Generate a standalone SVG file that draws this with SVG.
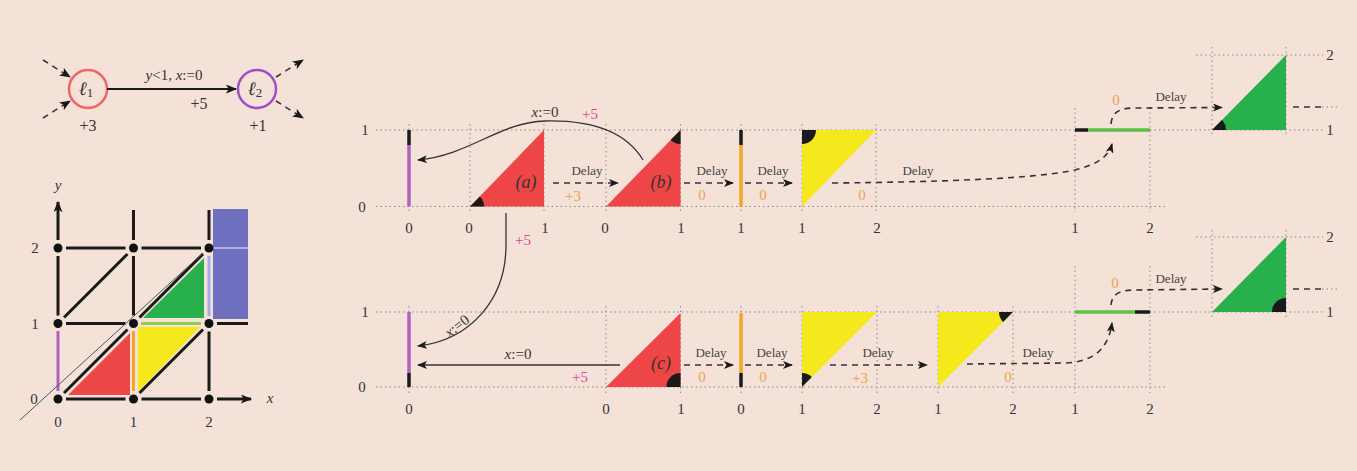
<svg xmlns="http://www.w3.org/2000/svg" width="1357" height="471" viewBox="0 0 1357 471">
<defs>
<marker id="ah" viewBox="0 0 10 8" refX="9" refY="4" markerWidth="10" markerHeight="8" markerUnits="userSpaceOnUse" orient="auto"><path d="M0,0 L10,4 L0,8 L2.5,4 Z" fill="#1a1a1a"/></marker>
<marker id="ahb" viewBox="0 0 10 8" refX="9" refY="4" markerWidth="12" markerHeight="9" markerUnits="userSpaceOnUse" orient="auto"><path d="M0,0 L10,4 L0,8 L2.5,4 Z" fill="#1a1a1a"/></marker>
<style>
.t{font-family:"Liberation Serif","DejaVu Serif",serif;fill:#333;text-anchor:middle;dominant-baseline:central}
.n{font-size:15px}
.d{font-size:13px;fill:#444}
.o{fill:#f0a04a;font-size:15px}
.m{fill:#e0459a;font-size:15px}
.it{font-style:italic}
.dot{stroke:#8a8a8a;stroke-width:1;stroke-dasharray:1.5 3;fill:none}
.dash{stroke:#333;stroke-width:1.6;stroke-dasharray:6 5;fill:none;marker-end:url(#ah)}
.dsh{stroke:#333;stroke-width:1.6;stroke-dasharray:6 5;fill:none}
.arr{stroke:#333;stroke-width:1.3;fill:none;marker-end:url(#ah)}
.g{stroke:#1a1a1a;stroke-width:3;fill:none}
.w{fill:#1a1a1a}
.red{fill:#ee4646}
.yel{fill:#f5e81c}
.grn{fill:#27b04b}
</style>
</defs>
<rect width="1357" height="471" fill="#f4e2d9"/>

<!-- automaton -->
<g id="automaton">
  <g id="l1">
    <circle cx="88" cy="89" r="19" fill="none" stroke="#f06464" stroke-width="2.5"/>
    <text class="t it" x="86" y="88" font-size="19" fill="#f08080">ℓ<tspan font-size="13" dy="4" font-style="normal">1</tspan></text>
    <text class="t" x="88" y="125" font-size="16" fill="#f06464">+3</text>
  </g>
  <g id="l2">
    <circle cx="257" cy="89" r="19" fill="none" stroke="#a24ec0" stroke-width="2.5"/>
    <text class="t it" x="255" y="88" font-size="19" fill="#b070c8">ℓ<tspan font-size="13" dy="4" font-style="normal">2</tspan></text>
    <text class="t" x="258" y="125" font-size="16" fill="#a24ec0">+1</text>
  </g>
  <g id="automaton-edges">
    <line x1="107" y1="89" x2="236" y2="89" stroke="#1a1a1a" stroke-width="2" marker-end="url(#ahb)"/>
    <text class="t" x="174" y="75" font-size="15"><tspan class="it">y</tspan>&lt;1, <tspan class="it">x</tspan>:=0</text>
    <text class="t" x="199" y="103" font-size="16">+5</text>
    <line x1="43" y1="60" x2="70" y2="77" class="dsh" stroke-dasharray="5 4" marker-end="url(#ahb)"/>
    <line x1="43" y1="118" x2="70" y2="101" class="dsh" stroke-dasharray="5 4" marker-end="url(#ahb)"/>
    <line x1="276" y1="77" x2="303" y2="60" class="dsh" stroke-dasharray="5 4" marker-end="url(#ahb)"/>
    <line x1="276" y1="101" x2="303" y2="118" class="dsh" stroke-dasharray="5 4" marker-end="url(#ahb)"/>
  </g>
</g>

<!-- region graph -->
<g id="region-grid">
  <polygon class="red" points="68,395 130,395 130,333"/>
  <polygon class="yel" points="138,392 138,327 200,327"/>
  <polygon class="grn" points="143,318 204,318 204,258"/>
  <rect x="213" y="209" width="35" height="110" fill="#6f6fc0"/>
  <line x1="213" y1="248" x2="248" y2="248" stroke="#c4c4ee" stroke-width="1.5"/>
  <line x1="58" y1="391" x2="58" y2="331" stroke="#b060c0" stroke-width="3"/>
  <line x1="133.5" y1="391" x2="133.5" y2="331" stroke="#f5a623" stroke-width="3"/>
  <line x1="141" y1="323.5" x2="201" y2="323.5" stroke="#8fd048" stroke-width="3"/>
  <line x1="209" y1="316" x2="209" y2="256" stroke="#a8a8e8" stroke-width="3"/>
  <path class="g" d="M66,399 H125.5 M141.5,399 H201 M66,323.5 H125.5 M217,323.5 H248 M66,248 H125.5 M141.5,248 H201 M58,315.5 V256 M133.5,315.5 V256 M133.5,240 V210 M209,391 V331.5 M209,240 V210 M64,393 L127.5,329.5 M64,317.5 L127.5,254 M139.5,393 L203,329.5 M139.5,317.5 L203,254"/>
  <line x1="217" y1="399" x2="251" y2="399" class="g" marker-end="url(#ahb)"/>
  <line x1="58" y1="240" x2="58" y2="202" class="g" marker-end="url(#ahb)"/>
  <line x1="20" y1="420" x2="203" y2="253" stroke="#555" stroke-width="1"/>
  <g fill="#111">
    <circle cx="58" cy="399" r="4.5"/><circle cx="133.5" cy="399" r="4.5"/><circle cx="209" cy="399" r="4.5"/>
    <circle cx="58" cy="323.5" r="4.5"/><circle cx="133.5" cy="323.5" r="4.5"/><circle cx="209" cy="323.5" r="4.5"/>
    <circle cx="58" cy="248" r="4.5"/><circle cx="133.5" cy="248" r="4.5"/><circle cx="209" cy="248" r="4.5"/>
  </g>
  <text class="t n it" x="58" y="185">y</text>
  <text class="t n it" x="270" y="398">x</text>
  <text class="t n" x="58" y="422">0</text>
  <text class="t n" x="133.5" y="422">1</text>
  <text class="t n" x="209" y="422">2</text>
  <text class="t n" x="34" y="399">0</text>
  <text class="t n" x="35" y="323.5">1</text>
  <text class="t n" x="35" y="248">2</text>
</g>

<!-- guide lines -->
<g id="guides">
  <path class="dot" d="M376,130 H1323 M376,206.5 H1165 M1196,55 H1323 M376,312 H1323 M376,387 H1165 M1196,237 H1323"/>
  <path class="dot" d="M409,124 V212 M470,124 V212 M544,124 V212 M606,124 V212 M680.5,124 V212 M741,124 V212 M802,124 V212 M876,124 V212 M1075,108 V212 M1150,108 V212 M1212,47 V137 M1286,47 V137"/>
  <path class="dot" d="M409,306 V393 M606,306 V393 M680.5,306 V393 M741,306 V393 M802,306 V393 M877,306 V393 M938,306 V393 M1013,306 V393 M1075,266 V393 M1150,266 V393 M1212,230 V320 M1286,230 V320"/>
  <text class="t n" x="365" y="130">1</text>
  <text class="t n" x="362" y="206.5">0</text>
  <text class="t n" x="365" y="312">1</text>
  <text class="t n" x="362" y="387">0</text>
</g>

<!-- top row nodes -->
<g id="top-bar0">
  <line x1="409" y1="145" x2="409" y2="206.5" stroke="#b060c0" stroke-width="3.5"/>
  <line x1="409" y1="130" x2="409" y2="145" stroke="#1a1a1a" stroke-width="3.5"/>
  <text class="t n" x="409" y="228">0</text>
</g>
<g id="top-a">
  <polygon class="red" points="470,206.5 544,206.5 544,130"/>
  <path class="w" d="M470,206.5 L484,206.5 A14,14 0 0 0 479.9,196.6 Z"/>
  <text class="t it" x="526" y="182" font-size="18" fill="#555">(a)</text>
  <text class="t n" x="469" y="228">0</text>
  <text class="t n" x="545" y="228">1</text>
</g>
<g id="top-b">
  <polygon class="red" points="606,206.5 680.5,206.5 680.5,130"/>
  <path class="w" d="M680.5,130 L680.5,144 A14,14 0 0 1 670.6,139.9 Z"/>
  <text class="t it" x="661" y="182" font-size="18" fill="#555">(b)</text>
  <text class="t n" x="605" y="228">0</text>
  <text class="t n" x="681" y="228">1</text>
</g>
<g id="top-orange">
  <line x1="741" y1="145" x2="741" y2="206.5" stroke="#f5a623" stroke-width="3.5"/>
  <line x1="741" y1="130" x2="741" y2="145" stroke="#1a1a1a" stroke-width="3.5"/>
  <text class="t n" x="741" y="228">1</text>
</g>
<g id="top-yellow">
  <polygon class="yel" points="802,130 876,130 802,206.5"/>
  <path class="w" d="M802,130 L816,130 A14,14 0 0 1 802,144 Z"/>
  <text class="t n" x="802" y="228">1</text>
  <text class="t n" x="877" y="228">2</text>
</g>
<g id="top-seg">
  <line x1="1075" y1="130" x2="1088" y2="130" stroke="#1a1a1a" stroke-width="3.5"/>
  <line x1="1088" y1="130" x2="1150" y2="130" stroke="#5cc046" stroke-width="3.5"/>
  <text class="t n" x="1075" y="228">1</text>
  <text class="t n" x="1150" y="228">2</text>
</g>
<g id="top-green">
  <polygon class="grn" points="1212,130 1286,130 1286,55"/>
  <path class="w" d="M1212,130 L1226,130 A14,14 0 0 0 1221.9,120.1 Z"/>
  <text class="t n" x="1330" y="55">2</text>
  <text class="t n" x="1330" y="130">1</text>
</g>

<!-- bottom row nodes -->
<g id="bot-bar0">
  <line x1="409" y1="312" x2="409" y2="373" stroke="#b060c0" stroke-width="3.5"/>
  <line x1="409" y1="373" x2="409" y2="387" stroke="#1a1a1a" stroke-width="3.5"/>
  <text class="t n" x="409" y="409">0</text>
</g>
<g id="bot-c">
  <polygon class="red" points="606,387 680.5,387 680.5,313"/>
  <path class="w" d="M680.5,387 L666.5,387 A14,14 0 0 1 680.5,373 Z"/>
  <text class="t it" x="661" y="363" font-size="18" fill="#555">(c)</text>
  <text class="t n" x="606" y="409">0</text>
  <text class="t n" x="681" y="409">1</text>
</g>
<g id="bot-orange">
  <line x1="741" y1="313" x2="741" y2="373" stroke="#f5a623" stroke-width="3.5"/>
  <line x1="741" y1="373" x2="741" y2="387" stroke="#1a1a1a" stroke-width="3.5"/>
  <text class="t n" x="741" y="409">0</text>
</g>
<g id="bot-yellow1">
  <polygon class="yel" points="802,312 877,312 802,387"/>
  <path class="w" d="M802,387 L802,373 A14,14 0 0 1 811.9,377.1 Z"/>
  <text class="t n" x="802" y="409">1</text>
  <text class="t n" x="877" y="409">2</text>
</g>
<g id="bot-yellow2">
  <polygon class="yel" points="938,312 1013,312 938,387"/>
  <path class="w" d="M1013,312 L999,312 A14,14 0 0 0 1003.1,321.9 Z"/>
  <text class="t n" x="938" y="409">1</text>
  <text class="t n" x="1013" y="409">2</text>
</g>
<g id="bot-seg">
  <line x1="1075" y1="312" x2="1135" y2="312" stroke="#5cc046" stroke-width="3.5"/>
  <line x1="1135" y1="312" x2="1150" y2="312" stroke="#1a1a1a" stroke-width="3.5"/>
  <text class="t n" x="1075" y="409">1</text>
  <text class="t n" x="1150" y="409">2</text>
</g>
<g id="bot-green">
  <polygon class="grn" points="1212,312 1286,312 1286,237"/>
  <path class="w" d="M1286,312 L1272,312 A14,14 0 0 1 1286,298 Z"/>
  <text class="t n" x="1330" y="237">2</text>
  <text class="t n" x="1330" y="312">1</text>
</g>

<!-- connectors -->
<g id="connectors">
  <path class="arr" d="M643,160 C625,130 590,120 545,121 C500,122 470,155 418,160"/>
  <text class="t n" x="545" y="112"><tspan class="it">x</tspan>:=0</text>
  <text class="t m" x="590" y="114">+5</text>

  <path class="dash" d="M553,183 L618,183"/>
  <text class="t d" x="587" y="170">Delay</text>
  <text class="t o" x="573" y="196">+3</text>

  <path class="dash" d="M684,183 L733,183"/>
  <text class="t d" x="712" y="170">Delay</text>
  <text class="t o" x="702" y="195">0</text>

  <path class="dash" d="M745,183 L792,183"/>
  <text class="t d" x="773" y="170">Delay</text>
  <text class="t o" x="763" y="195">0</text>

  <path class="dash" d="M832,183 C950,182 1040,178 1075,170 C1095,165 1108,158 1112,144"/>
  <text class="t d" x="918" y="170">Delay</text>
  <text class="t o" x="862" y="195">0</text>

  <path class="dash" d="M1111,124 C1112,113 1118,108 1135,108 L1222,107.5"/>
  <text class="t o" x="1116" y="100">0</text>
  <text class="t d" x="1171" y="96">Delay</text>
  <path class="dsh" d="M1293,107 H1322"/>
  <path class="dot" d="M1322,107 H1338"/>

  <path class="arr" d="M506,213 L506,245 C506,300 470,340 418,346"/>
  <text class="t m" x="523" y="240">+5</text>
  <text class="t n" x="457" y="326" transform="rotate(-38 457 326)"><tspan class="it">x</tspan>:=0</text>

  <path class="arr" d="M620,365 L418,365"/>
  <text class="t n" x="518" y="354"><tspan class="it">x</tspan>:=0</text>
  <text class="t m" x="580" y="377">+5</text>

  <path class="dash" d="M684,365 L733,365"/>
  <text class="t d" x="711" y="352">Delay</text>
  <text class="t o" x="702" y="377">0</text>

  <path class="dash" d="M745,365 L792,365"/>
  <text class="t d" x="772" y="352">Delay</text>
  <text class="t o" x="763" y="377">0</text>

  <path class="dash" d="M830,365 L927,365"/>
  <text class="t d" x="878" y="352">Delay</text>
  <text class="t o" x="860" y="378">+3</text>

  <path class="dash" d="M967,364 L1065,363 C1090,362 1108,352 1112,323"/>
  <text class="t d" x="1038" y="352">Delay</text>
  <text class="t o" x="1008" y="377">0</text>

  <path class="dash" d="M1111,305 C1112,295 1118,290 1135,290 L1222,289"/>
  <text class="t o" x="1115" y="283">0</text>
  <text class="t d" x="1171" y="278">Delay</text>
  <path class="dsh" d="M1293,289 H1322"/>
  <path class="dot" d="M1322,289 H1338"/>
</g>
</svg>
